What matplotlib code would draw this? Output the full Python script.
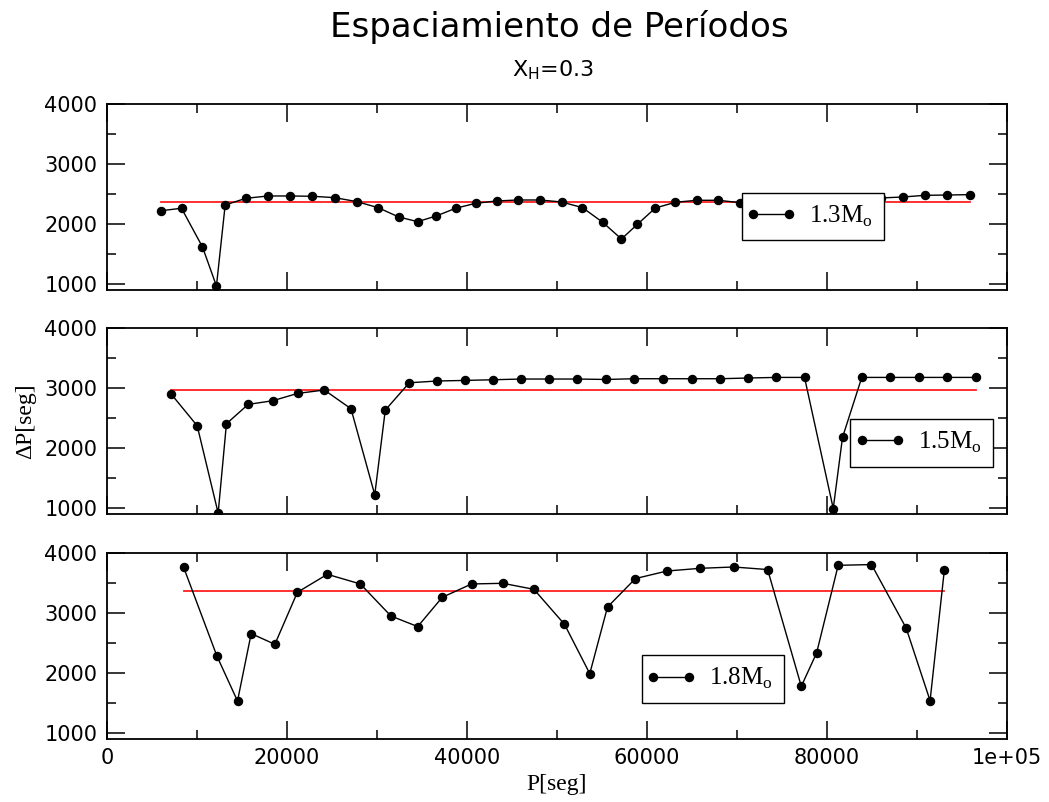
import matplotlib
matplotlib.use("Agg")
import matplotlib.pyplot as plt
from matplotlib.lines import Line2D
from matplotlib.legend_handler import HandlerLine2D
from matplotlib.ticker import FixedLocator, MultipleLocator, FixedFormatter

plt.rcParams['font.family'] = ['DejaVu Sans']
plt.rcParams['mathtext.fontset'] = 'custom'
plt.rcParams['mathtext.rm'] = 'Liberation Serif'
plt.rcParams['mathtext.sf'] = 'DejaVu Sans'

# 1.3 Msun
p13 = [6030, 8280, 10610, 12160, 13130, 15430, 17900, 20380, 22820, 25300,
       27750, 30110, 32410, 34520, 36580, 38740, 40960, 43320, 45680, 48090,
       50500, 52830, 55080, 57160, 58930, 60930, 63150, 65520, 67930, 70290,
       72600, 74900, 77200, 79500, 81700, 83900, 86020, 88420, 90900, 93350,
       95850]
dp13 = [2227, 2267, 1622, 972, 2322, 2433, 2472, 2472, 2467, 2444,
        2378, 2278, 2122, 2044, 2139, 2267, 2350, 2389, 2405, 2405,
        2372, 2278, 2033, 1755, 2000, 2272, 2367, 2400, 2400, 2361,
        2370, 2380, 2390, 2400, 2410, 2425, 2439, 2455, 2483, 2488,
        2494]
mean13 = 2378

# 1.5 Msun
p15 = [7100, 10020, 12350, 13270, 15680, 18420, 21200, 24150, 27110, 29750,
       30920, 33590, 36660, 39770, 42870, 45980, 49120, 52230, 55450, 58600,
       61770, 64990, 68070, 71210, 74360, 77500, 80690, 81720, 83860, 87010,
       90190, 93370, 96560]
dp15 = [2905, 2372, 917, 2405, 2727, 2789, 2911, 2967, 2655, 1222,
        2633, 3088, 3117, 3127, 3138, 3150, 3150, 3150, 3143, 3155,
        3155, 3155, 3155, 3167, 3177, 3177, 993, 2177, 3177, 3177,
        3177, 3177, 3177]
mean15 = 2972

# 1.8 Msun
p18 = [8500, 12210, 14500, 16020, 18650, 21150, 24480, 28150, 31550, 34520,
       37250, 40510, 43980, 47430, 50830, 53640, 55610, 58710, 62220, 65930,
       69620, 73400, 77140, 78840, 81240, 84940, 88790, 91450, 93040]
dp18 = [3760, 2277, 1527, 2650, 2472, 3338, 3638, 3477, 2943, 2767,
        3255, 3477, 3488, 3388, 2805, 1983, 3093, 3567, 3693, 3738,
        3760, 3717, 1772, 2327, 3788, 3800, 2743, 1533, 3717]
mean18 = 3355

labels = [r'1.3M$_{\rm o}$', r'1.5M$_{\rm o}$', r'1.8M$_{\rm o}$']
xticks = [0, 20000, 40000, 60000, 80000, 100000]
xticklabels = ['0', '20000', '40000', '60000', '80000', '1e+05']
yticks = [1000, 2000, 3000, 4000]

fig = plt.figure(figsize=(10.49, 8.02), dpi=100)
left, width = 0.102, 0.858
bottoms = [0.638, 0.359, 0.079]
height = 0.232
legpos = [(0.705, 0.269), (0.826, 0.255), (0.594, 0.193)]

series = [(p13, dp13, mean13), (p15, dp15, mean15), (p18, dp18, mean18)]

for i, (p, dp, m) in enumerate(series):
    ax = fig.add_axes([left, bottoms[i], width, height])
    ax.plot(p, dp, color='black', lw=1.0, marker='o', ms=5.8, label=labels[i], zorder=3)
    ax.plot([p[0], p[-1]], [m, m], color='#ff2020', lw=1.3, zorder=2)
    ax.set_xlim(0, 100000)
    ax.set_ylim(900, 4000)
    ax.xaxis.set_major_locator(FixedLocator(xticks))
    ax.xaxis.set_minor_locator(MultipleLocator(10000))
    ax.yaxis.set_major_locator(FixedLocator(yticks))
    ax.yaxis.set_minor_locator(MultipleLocator(500))
    ax.tick_params(which='both', direction='in', top=True, right=True, width=1.1)
    ax.tick_params(which='major', length=13, labelsize=15, pad=7)
    ax.tick_params(which='minor', length=6.5)
    for s in ax.spines.values():
        s.set_linewidth(1.3)
    if i < 2:
        ax.set_xticklabels([])
    else:
        ax.xaxis.set_major_formatter(FixedFormatter(xticklabels))
    leg = ax.legend(loc='lower left', bbox_to_anchor=legpos[i], borderaxespad=0,
                    numpoints=2, handlelength=1.45, handletextpad=0.8, borderpad=0.45,
                    fancybox=False, framealpha=1, edgecolor='black',
                    handler_map={Line2D: HandlerLine2D(marker_pad=0)},
                    prop={'family': 'Liberation Serif', 'size': 18})
    leg.get_frame().set_linewidth(1.0)

fig.text(0.533, 0.954, 'Espaciamiento de Períodos', ha='center', va='baseline', fontsize=24.5)
fig.text(0.527, 0.905, r'X$_\mathsf{H}$=0.3', ha='center', va='baseline', fontsize=16)
fig.text(0.531, 0.015, 'P[seg]', ha='center', va='baseline', fontsize=17, family='Liberation Serif')
fig.text(0.024, 0.475, 'ΔP[seg]', ha='center', va='center', rotation=90, fontsize=17,
         family='Liberation Serif')

fig.savefig('out.png', dpi=100)
